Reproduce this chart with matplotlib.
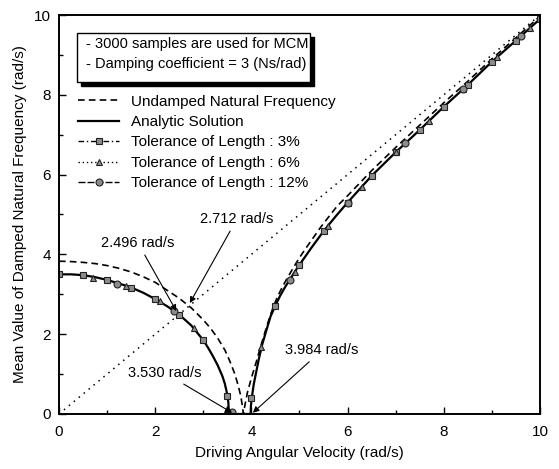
import matplotlib
matplotlib.use("Agg")
import matplotlib.pyplot as plt
from matplotlib.lines import Line2D
from matplotlib.patches import Rectangle

plt.rcParams['font.family'] = ['Liberation Sans', 'DejaVu Sans']

# undamped natural frequency (dashed)
undamped_x = [0.0, 0.25, 0.5, 0.75, 1.0, 1.25, 1.5, 1.75, 2.0, 2.25, 2.5, 2.75,
              3.0, 3.15, 3.3, 3.45, 3.55, 3.65, 3.72, 3.78, 3.81, 3.835,
              3.87, 3.92, 4.0, 4.1, 4.2, 4.3, 4.4, 4.5, 4.6, 4.71, 4.85, 5.0,
              5.2, 5.44, 5.6, 5.79, 6.0, 6.5, 7.0, 7.5, 8.0, 8.5, 9.0, 9.5, 10.0]
undamped_y = [3.83, 3.82, 3.80, 3.77, 3.72, 3.65, 3.56, 3.44, 3.30, 3.10, 2.90, 2.66,
              2.36, 2.15, 1.90, 1.60, 1.33, 1.02, 0.74, 0.45, 0.22, 0.0,
              0.25, 0.55, 0.90, 1.30, 1.72, 2.12, 2.50, 2.82, 3.08, 3.33, 3.62, 3.92,
              4.27, 4.68, 4.93, 5.22, 5.47, 6.10, 6.68, 7.24, 7.80, 8.34, 8.90, 9.43, 9.97]

# analytic solution (solid)
analytic_x = [0.0, 0.25, 0.5, 0.75, 1.0, 1.25, 1.5, 1.75, 2.0, 2.25, 2.5, 2.75,
              3.0, 3.1, 3.2, 3.3, 3.4, 3.45, 3.5, 3.52, 3.535,
              3.984, 3.99, 4.01, 4.05, 4.1, 4.15, 4.22, 4.3, 4.4, 4.5, 4.6, 4.7,
              4.8, 4.9, 5.0, 5.25, 5.5, 5.75, 6.0, 6.5, 7.0, 7.5, 8.0, 8.5, 9.0,
              9.5, 10.0]
analytic_y = [3.50, 3.50, 3.48, 3.43, 3.36, 3.27, 3.17, 3.04, 2.88, 2.70, 2.49, 2.22,
              1.85, 1.66, 1.45, 1.22, 0.94, 0.75, 0.48, 0.30, 0.0,
              0.0, 0.20, 0.42, 0.75, 1.05, 1.35, 1.72, 2.05, 2.45, 2.72, 2.97, 3.18,
              3.37, 3.56, 3.74, 4.17, 4.58, 4.95, 5.30, 5.97, 6.56, 7.12, 7.70, 8.25,
              8.83, 9.36, 9.90]

# Monte Carlo means for each length tolerance
tol3_x = [0.0, 0.5, 1.0, 1.5, 2.0, 2.5, 3.0, 3.5, 4.0, 4.5, 5.0, 5.5, 6.0, 6.5,
          7.0, 7.5, 8.0, 8.5, 9.0, 9.5, 10.0]
tol3_y = [3.50, 3.48, 3.36, 3.17, 2.88, 2.49, 1.85, 0.45, 0.40, 2.70, 3.74, 4.58,
          5.30, 5.97, 6.56, 7.12, 7.70, 8.25, 8.83, 9.36, 9.90]
tol6_x = [0.7, 1.4, 2.1, 2.8, 3.5, 4.2, 4.9, 5.6, 6.3, 7.0, 7.7, 8.4, 9.1, 9.8]
tol6_y = [3.42, 3.21, 2.82, 2.15, 0.12, 1.68, 3.55, 4.72, 5.70, 6.56, 7.35, 8.14,
          8.94, 9.68]
tol12_x = [1.2, 2.4, 3.6, 4.8, 6.0, 7.2, 8.4, 9.6]
tol12_y = [3.27, 2.57, 0.05, 3.37, 5.30, 6.79, 8.14, 9.47]

fig = plt.figure(figsize=(5.59, 4.69), dpi=100)
ax = fig.add_axes([0.1055, 0.1173, 0.8605, 0.8507])

ax.plot([0, 10], [0, 10], color='black', lw=1.1, ls=(0, (1, 3.2)))
ax.plot(undamped_x, undamped_y, color='black', lw=1.2, ls=(0, (4, 2.5)))
ax.plot(analytic_x, analytic_y, color='black', lw=1.6)

mk = dict(color='black', lw=1.0, ms=5, mfc='#8c8c8c', mec='#222222', mew=0.8)
styles = [(0, (4, 2, 1, 2)), (0, (1, 2)), (0, (5, 1.5))]
ax.plot(tol3_x, tol3_y, ls='none', marker='s', **mk)
ax.plot(tol6_x, tol6_y, ls='none', marker='^', **mk)
ax.plot(tol12_x, tol12_y, ls='none', marker='o', **mk)

ax.set_xlim(0, 10)
ax.set_ylim(0, 10)
ax.set_xticks([0, 2, 4, 6, 8, 10])
ax.set_yticks([0, 2, 4, 6, 8, 10])
ax.set_xticks([1, 3, 5, 7, 9], minor=True)
ax.set_yticks([1, 3, 5, 7, 9], minor=True)
ax.tick_params(which='both', direction='in', labelsize=11)
ax.tick_params(which='major', length=5, width=1.0)
ax.tick_params(which='minor', length=3, width=1.0)
ax.tick_params(axis='x', pad=8)
ax.tick_params(axis='y', pad=6)
for s in ax.spines.values():
    s.set_linewidth(1.4)

ax.set_xlabel('Driving Angular Velocity (rad/s)', fontsize=11, labelpad=5)
ax.set_ylabel('Mean Value of Damped Natural Frequency (rad/s)', fontsize=11,
              labelpad=5)

# info box with drop shadow
ax.add_patch(Rectangle((0.045, 0.822), 0.485, 0.123, transform=ax.transAxes,
                       facecolor='black', edgecolor='black', zorder=4))
ax.add_patch(Rectangle((0.037, 0.832), 0.485, 0.123, transform=ax.transAxes,
                       facecolor='white', edgecolor='black', lw=1.0, zorder=5))
ax.text(0.056, 0.928, '- 3000 samples are used for MCM', transform=ax.transAxes,
        fontsize=10.5, va='center', zorder=6)
ax.text(0.056, 0.878, '- Damping coefficient = 3 (Ns/rad)', transform=ax.transAxes,
        fontsize=10.5, va='center', zorder=6)

handles = [
    Line2D([], [], color='black', lw=1.2, ls=(0, (4, 2.5))),
    Line2D([], [], color='black', lw=1.6),
    Line2D([], [], ls=styles[0], marker='s', **mk),
    Line2D([], [], ls=styles[1], marker='^', **mk),
    Line2D([], [], ls=styles[2], marker='o', **mk),
]
labels = ['Undamped Natural Frequency', 'Analytic Solution',
          'Tolerance of Length : 3%', 'Tolerance of Length : 6%',
          'Tolerance of Length : 12%']
ax.legend(handles, labels, loc='upper left', bbox_to_anchor=(0.03, 0.812),
          frameon=False, fontsize=11, handlelength=2.7, handletextpad=0.8,
          labelspacing=0.42, borderaxespad=0.0, borderpad=0.3)

arrow = dict(arrowstyle='-|>', color='black', lw=0.8, mutation_scale=9,
             shrinkA=2, shrinkB=0)
ax.annotate('2.712 rad/s', xy=(2.72, 2.78), xytext=(3.70, 4.89), fontsize=10.5,
            ha='center', va='center', arrowprops=arrow)
ax.annotate('2.496 rad/s', xy=(2.44, 2.58), xytext=(1.64, 4.29), fontsize=10.5,
            ha='center', va='center', arrowprops=arrow)
ax.annotate('3.530 rad/s', xy=(3.60, 0.03), xytext=(2.20, 1.03), fontsize=10.5,
            ha='center', va='center', arrowprops=arrow)
ax.annotate('3.984 rad/s', xy=(4.03, 0.03), xytext=(5.47, 1.60), fontsize=10.5,
            ha='center', va='center', arrowprops=arrow)

fig.savefig('out.png', dpi=100)
